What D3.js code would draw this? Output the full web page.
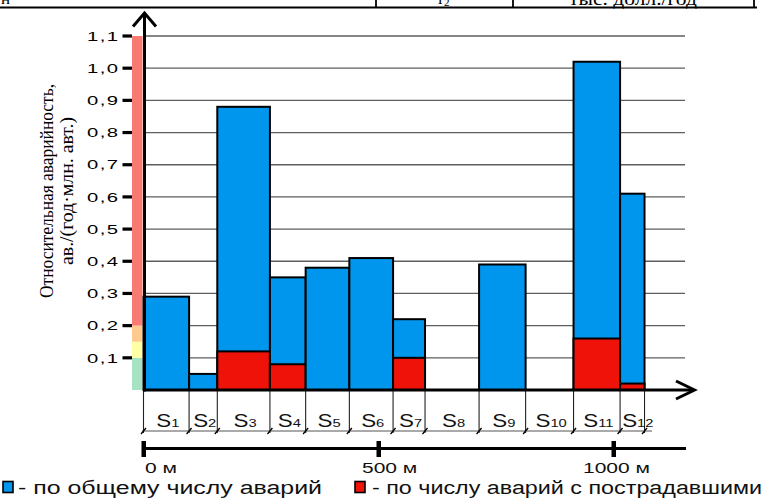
<!DOCTYPE html>
<html><head><meta charset="utf-8">
<script src="https://cdn.jsdelivr.net/npm/d3@7"></script>
<style>html,body{margin:0;padding:0;background:#fff}svg{display:block}</style>
</head><body>
<svg id="c" width="765" height="501"></svg>
<script>
// ---- data ----
const segments = ["1","2","3","4","5","6","7","8","9","10","11","12"];
const boundaries = [0, 97, 157, 269, 345, 438, 531, 599, 714, 813, 915, 1014, 1066]; // metres
const totalRate = [0.29, 0.05, 0.88, 0.35, 0.38, 0.41, 0.22, 0, 0.39, 0, 1.02, 0.61];
const injuryRate = [0, 0, 0.12, 0.08, 0, 0, 0.10, 0, 0, 0, 0.16, 0.02];
const yTicks = [0.1,0.2,0.3,0.4,0.5,0.6,0.7,0.8,0.9,1.0,1.1];
const yTickLabels = ["0,1","0,2","0,3","0,4","0,5","0,6","0,7","0,8","0,9","1,0","1,1"];
const bandLimits = [0, 0.1, 0.15, 0.2, 1.1];
const distTicks = [0, 500, 1000];
const distLabels = ["0 м", "500 м", "1000 м"];
const yTitle = ["Относительная аварийность,", "ав./(год·млн. авт.)"];
const legendLabels = ["- по общему числу аварий", "- по числу аварий с пострадавшими"];
const headerTexts = ["н", "т", "тыс. долл./год"];

// ---- styles ----
const BLUE = "#0096ee", RED = "#ee1209";
const bandColors = ["#a6e3c2", "#ffffa6", "#ffca8e", "#f87b73"];

const svg = d3.select("#c");
const y = d3.scaleLinear().domain([0, 1.1]).range([390, 36]);
const x = d3.scaleLinear().domain([0, 1000]).range([143.5, 613.5]);
const sans = "Arial, 'Liberation Sans', sans-serif";
const serif = "'Times New Roman', 'Liberation Serif', serif";

// header remnant (cut at the top edge, as in the reference)
svg.append("line").attr("x1",0).attr("x2",757).attr("y1",7.5).attr("y2",7.5).attr("stroke","#000").attr("stroke-width",2.2);
[376, 513, 754].forEach(v => svg.append("line").attr("x1",v).attr("x2",v).attr("y1",0).attr("y2",7).attr("stroke","#000").attr("stroke-width",1.8));
svg.append("text").attr("x",1).attr("y",4).attr("font-family",serif).attr("font-size",17).text(headerTexts[0]);
const t2 = svg.append("text").attr("x",443).attr("y",4).attr("text-anchor","middle").attr("font-family",serif).attr("font-size",17);
t2.append("tspan").text(headerTexts[1]);
t2.append("tspan").attr("font-size",11).attr("dy",2).text("2");
svg.append("text").attr("x",633).attr("y",4.5).attr("text-anchor","middle").attr("font-family",serif).attr("font-size",18).attr("textLength",128).attr("lengthAdjust","spacingAndGlyphs").text(headerTexts[2]);

// grid
svg.append("g").selectAll("line").data(yTicks).join("line")
  .attr("x1",145).attr("x2",685).attr("y1",d=>y(d)).attr("y2",d=>y(d))
  .attr("stroke","#5e5e5e").attr("stroke-width",1.3);

// colour strip
svg.append("g").selectAll("rect").data(bandColors).join("rect")
  .attr("x",132).attr("width",10.5)
  .attr("y",(d,i)=>y(bandLimits[i+1])).attr("height",(d,i)=>y(bandLimits[i])-y(bandLimits[i+1]))
  .attr("fill",d=>d);

// y ticks & labels
svg.append("g").selectAll("line").data(yTicks).join("line")
  .attr("x1",122.5).attr("x2",132).attr("y1",d=>y(d)).attr("y2",d=>y(d))
  .attr("stroke","#000").attr("stroke-width",3.2);
svg.append("g").selectAll("text").data(yTicks).join("text")
  .attr("transform",d=>`translate(119.5,${y(d)}) scale(1.5,1)`)
  .attr("text-anchor","end").attr("dominant-baseline","central")
  .attr("font-family",sans).attr("font-size",13.5).attr("letter-spacing",1)
  .text((d,i)=>yTickLabels[i]);

// bars
const bars = svg.append("g");
segments.forEach((s,i) => {
  const x0 = x(boundaries[i]), x1 = x(boundaries[i+1]);
  if (totalRate[i] > 0) bars.append("rect").attr("x",x0).attr("width",x1-x0)
    .attr("y",y(totalRate[i])).attr("height",y(0)-y(totalRate[i]))
    .attr("fill",BLUE).attr("stroke","#000").attr("stroke-width",2);
  if (injuryRate[i] > 0) bars.append("rect").attr("x",x0).attr("width",x1-x0)
    .attr("y",y(injuryRate[i])).attr("height",y(0)-y(injuryRate[i]))
    .attr("fill",RED).attr("stroke","#000").attr("stroke-width",2);
});

// segment dimension lines
svg.append("g").selectAll("line").data(boundaries).join("line")
  .attr("x1",d=>x(d)).attr("x2",d=>x(d)).attr("y1",390).attr("y2",433)
  .attr("stroke","#222").attr("stroke-width",1.1);
svg.append("line").attr("x1",142).attr("x2",652).attr("y1",431).attr("y2",431).attr("stroke","#555").attr("stroke-width",1);
svg.append("g").selectAll("line").data(boundaries).join("line")
  .attr("x1",d=>x(d)-2.5).attr("x2",d=>x(d)+2.5).attr("y1",434).attr("y2",428)
  .attr("stroke","#000").attr("stroke-width",1.3);
const sl = svg.append("g").selectAll("text").data(segments).join("text")
  .attr("transform",(d,i)=>{
    let cx = (x(boundaries[i])+x(boundaries[i+1]))/2 + 1.5;
    if (i === segments.length-1) cx += 4;
    return `translate(${cx},426.5) scale(1.28,1)`;})
  .attr("text-anchor","middle").attr("font-family",sans).attr("font-size",17.5).attr("fill","#111");
sl.append("tspan").text("S");
sl.append("tspan").attr("font-size",11.5).text(d=>d);

// axes
svg.append("line").attr("x1",144.5).attr("x2",144.5).attr("y1",391.5).attr("y2",13).attr("stroke","#000").attr("stroke-width",3);
svg.append("polyline").attr("points","133,26.5 144.5,13 156,26.5").attr("fill","none").attr("stroke","#000").attr("stroke-width",3);
svg.append("line").attr("x1",143).attr("x2",694).attr("y1",390).attr("y2",390).attr("stroke","#000").attr("stroke-width",3);
svg.append("polyline").attr("points","676,381 694.5,390 676,399").attr("fill","none").attr("stroke","#000").attr("stroke-width",3);

// distance scale bar
svg.append("line").attr("x1",143).attr("x2",686).attr("y1",448.5).attr("y2",448.5).attr("stroke","#000").attr("stroke-width",3);
svg.append("g").selectAll("rect").data(distTicks).join("rect")
  .attr("x",d=>x(d)-2).attr("width",4.5).attr("y",441).attr("height",16).attr("fill","#000");
const distDx = [1.5, -16.5, -30.5];
svg.append("g").selectAll("text").data(distTicks).join("text")
  .attr("transform",(d,i)=>`translate(${x(d)+distDx[i]},472.5) scale(1.5,1)`)
  .attr("font-family",sans).attr("font-size",14).attr("fill","#111")
  .text((d,i)=>distLabels[i]);

// y title
const yt = svg.append("g").attr("transform","translate(0,191) rotate(-90)");
yt.append("text").attr("x",0).attr("y",53).attr("text-anchor","middle").attr("font-family",serif).attr("font-size",19.5)
  .attr("textLength",214).attr("lengthAdjust","spacingAndGlyphs").text(yTitle[0]);
yt.append("text").attr("x",0).attr("y",73).attr("text-anchor","middle").attr("font-family",serif).attr("font-size",19.5)
  .attr("textLength",148).attr("lengthAdjust","spacingAndGlyphs").text(yTitle[1]);

// legend
const leg = [{c:BLUE, sx:3, tx:18, tl:304},{c:RED, sx:355, tx:372, tl:390}];
leg.forEach((l,i)=>{
  svg.append("rect").attr("x",l.sx).attr("y",481.5).attr("width",10).attr("height",11).attr("fill",l.c).attr("stroke","#000").attr("stroke-width",1.6);
  svg.append("text").attr("x",l.tx).attr("y",493.5).attr("font-family",sans).attr("font-size",18)
    .attr("textLength",l.tl).attr("lengthAdjust","spacingAndGlyphs").attr("fill","#111").text(legendLabels[i]);
});
</script>
</body></html>
